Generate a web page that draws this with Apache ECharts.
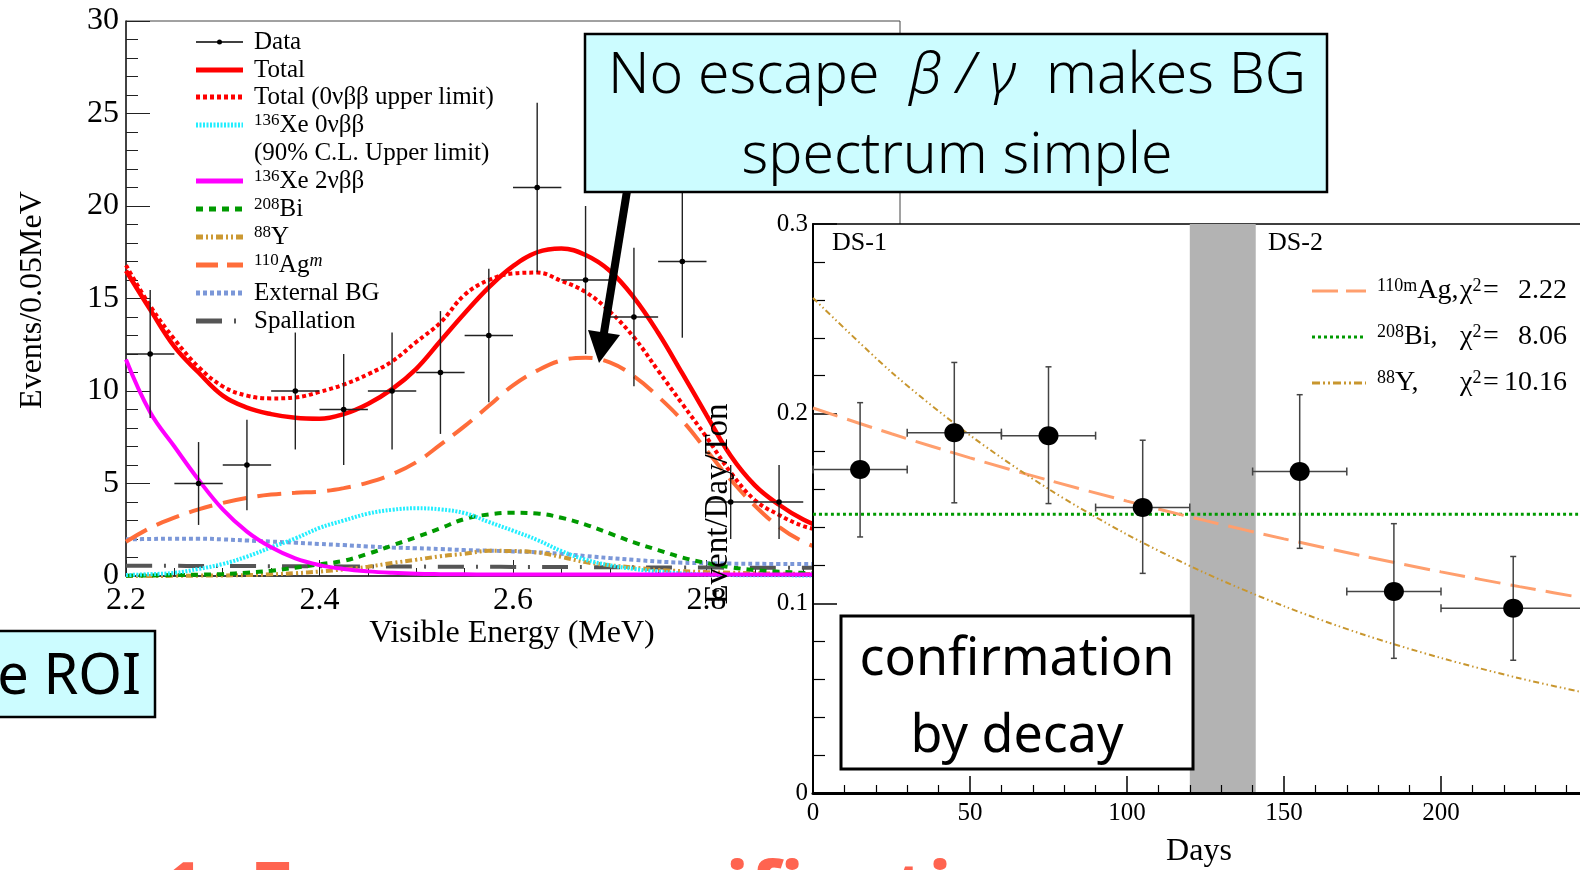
<!DOCTYPE html>
<html><head><meta charset="utf-8">
<script src="https://cdn.jsdelivr.net/npm/echarts@6/dist/echarts.min.js"></script>
<style>html,body{margin:0;padding:0;background:#fff}#c{width:1580px;height:870px}</style>
</head><body><div id="c"></div>
<script>
// ---------------- Left chart: energy spectrum ----------------
const energyGrid = [2.200,2.225,2.250,2.275,2.300,2.325,2.350,2.375,2.400,2.425,2.450,2.475,2.500,2.525,2.550,2.575,2.600,2.625,2.650,2.675,2.700,2.725,2.750,2.775,2.800,2.825,2.850,2.875,2.900,2.925];
const totalFit   = [16.5,14.4,12.4,11.0,9.75,9.1,8.75,8.55,8.5,8.75,9.3,10.1,11.2,12.7,14.2,15.6,16.75,17.5,17.7,17.35,16.5,15.05,13.15,10.95,8.7,6.5,4.9,3.85,3.05,2.5];
const totalUpper = [16.8,14.6,12.8,11.3,10.25,9.75,9.6,9.65,9.95,10.35,10.9,11.6,12.65,13.7,15.2,16.0,16.35,16.4,15.95,15.35,14.3,12.9,11.1,9.3,7.5,5.6,4.1,3.3,2.7,2.4];
const xe0v       = [0.05,0.1,0.17,0.38,0.65,1.05,1.55,2.03,2.6,3.0,3.37,3.58,3.66,3.6,3.4,2.92,2.45,1.95,1.35,0.88,0.58,0.38,0.24,0.14,0.08,0.05,0.04,0.04,0.03,0.03];
const xe2v       = [11.7,8.85,7.0,5.2,3.6,2.4,1.55,0.95,0.59,0.38,0.25,0.17,0.12,0.1,0.09,0.08,0.08,0.08,0.08,0.08,0.08,0.08,0.08,0.08,0.08,0.08,0.08,0.08,0.08,0.08];
const bi208      = [0.02,0.03,0.05,0.07,0.1,0.18,0.28,0.45,0.63,0.82,1.2,1.65,2.1,2.58,3.08,3.33,3.42,3.38,3.15,2.78,2.3,1.82,1.4,1.0,0.7,0.47,0.32,0.23,0.17,0.13];
const y88        = [0,0,0.01,0.02,0.03,0.05,0.09,0.15,0.24,0.36,0.5,0.7,0.88,1.07,1.2,1.36,1.35,1.27,1.03,0.75,0.58,0.46,0.33,0.26,0.21,0.18,0.15,0.13,0.11,0.1];
const ag110m     = [1.85,2.6,3.15,3.6,3.95,4.22,4.4,4.5,4.56,4.75,5.05,5.5,6.15,7.1,8.1,9.2,10.3,11.1,11.65,11.8,11.55,10.8,9.7,8.4,6.8,5.2,3.8,2.65,1.85,1.35];
const extBG      = [1.98,2.0,2.02,2.02,1.98,1.92,1.86,1.8,1.73,1.67,1.6,1.54,1.5,1.46,1.4,1.37,1.33,1.28,1.2,1.08,0.97,0.87,0.78,0.72,0.69,0.67,0.66,0.65,0.65,0.64];
const spallation = [0.55,0.55,0.55,0.54,0.54,0.54,0.53,0.53,0.53,0.52,0.52,0.51,0.51,0.5,0.5,0.5,0.49,0.49,0.48,0.48,0.47,0.47,0.46,0.46,0.46,0.45,0.45,0.45,0.44,0.44];

const dataEnergy = [2.225,2.275,2.325,2.375,2.425,2.475,2.525,2.575,2.625,2.675,2.725,2.775,2.825,2.875];
const dataCounts = [12,5,6,10,9,10,11,13,21,16,14,17,4,4];
const dataLow    = [8.54,2.76,3.55,6.84,6.0,6.84,7.68,9.39,16.42,12.0,10.26,12.88,2.0,2.0];
const dataHigh   = [15.46,7.24,8.45,13.16,12.0,13.16,14.32,16.61,25.58,20.0,17.74,21.12,6.0,6.0];
const dataBinHalfWidth = 0.025;

// ---------------- Right chart: time dependence ----------------
const dayCenter = [15,45,75,105,155,185,223];
const dayHalf   = [15,15,15,15,15,15,23];
const rateValue = [0.1705,0.190,0.1884,0.1505,0.1695,0.1063,0.0974];
const rateLow   = [0.135,0.153,0.1526,0.1158,0.129,0.071,0.070];
const rateHigh  = [0.2058,0.227,0.2247,0.186,0.21,0.142,0.1247];
const curveDays = [0,25,50,75,100,125,150,175,200,225,250];
const agDecay   = [0.203,0.1894,0.1767,0.1649,0.1539,0.1436,0.1340,0.1250,0.1166,0.1088,0.1015];
const yDecay    = [0.261,0.2219,0.1886,0.1603,0.1363,0.1159,0.0985,0.0837,0.0712,0.0605,0.0514];
const biFlat    = [0.147,0.147,0.147,0.147,0.147,0.147,0.147,0.147,0.147,0.147,0.147];
const gapBand   = [120,141];

const serif = '"Liberation Serif", "DejaVu Serif", serif';
const sans = '"Noto Sans", "Liberation Sans", sans-serif';
const pair = (xs, ys) => xs.map((x, i) => [x, ys[i]]);

const chart = echarts.init(document.getElementById('c'), null, {renderer: 'canvas'});

function lineSeries(name, ys, color, width, dash, z) {
  return {
    name, type: 'line', xAxisIndex: 0, yAxisIndex: 0, data: pair(energyGrid, ys),
    smooth: 0.4, showSymbol: false, symbol: 'none', z: z || 2,
    lineStyle: {color, width, type: dash || 'solid', cap: 'butt'}, animation: false
  };
}

const leftErr = {
  type: 'custom', xAxisIndex: 0, yAxisIndex: 0, z: 4, animation: false,
  data: dataEnergy.map((e, i) => [e, dataCounts[i], dataLow[i], dataHigh[i], dataBinHalfWidth]),
  renderItem: (p, api) => {
    const x = api.value(0), y = api.value(1), lo = api.value(2), hi = api.value(3), hw = api.value(4);
    const a = api.coord([x - hw, y]), b = api.coord([x + hw, y]);
    const t = api.coord([x, hi]), d = api.coord([x, lo]), c = api.coord([x, y]);
    const st = {stroke: '#222', lineWidth: 1.4};
    return {type: 'group', children: [
      {type: 'line', shape: {x1: a[0], y1: a[1], x2: b[0], y2: b[1]}, style: st},
      {type: 'line', shape: {x1: t[0], y1: t[1], x2: d[0], y2: d[1]}, style: st},
      {type: 'circle', shape: {cx: c[0], cy: c[1], r: 2.8}, style: {fill: '#000'}}
    ]};
  }
};

const rightBand = {
  type: 'custom', xAxisIndex: 1, yAxisIndex: 1, z: 11, animation: false,
  data: [[gapBand[0], gapBand[1]]],
  renderItem: (p, api) => {
    const a = api.coord([api.value(0), 0.3]), b = api.coord([api.value(1), 0]);
    return {type: 'rect', shape: {x: a[0], y: a[1], width: b[0] - a[0], height: b[1] - a[1]}, style: {fill: '#b3b3b3'}};
  }
};

const rightPts = {
  type: 'custom', xAxisIndex: 1, yAxisIndex: 1, z: 14, animation: false,
  data: dayCenter.map((d, i) => [d, rateValue[i], rateLow[i], rateHigh[i], dayHalf[i]]),
  renderItem: (p, api) => {
    const x = api.value(0), y = api.value(1), lo = api.value(2), hi = api.value(3), hw = api.value(4);
    const a = api.coord([x - hw, y]), b = api.coord([x + hw, y]);
    const t = api.coord([x, hi]), d = api.coord([x, lo]), c = api.coord([x, y]);
    const st = {stroke: '#444', lineWidth: 1.5};
    return {type: 'group', children: [
      {type: 'line', shape: {x1: a[0], y1: a[1], x2: b[0], y2: b[1]}, style: st},
      {type: 'line', shape: {x1: a[0], y1: a[1] - 4, x2: a[0], y2: a[1] + 4}, style: st},
      {type: 'line', shape: {x1: b[0], y1: b[1] - 4, x2: b[0], y2: b[1] + 4}, style: st},
      {type: 'line', shape: {x1: t[0], y1: t[1], x2: d[0], y2: d[1]}, style: st},
      {type: 'line', shape: {x1: t[0] - 3, y1: t[1], x2: t[0] + 3, y2: t[1]}, style: st},
      {type: 'line', shape: {x1: d[0] - 3, y1: d[1], x2: d[0] + 3, y2: d[1]}, style: st},
      {type: 'ellipse', shape: {cx: c[0], cy: c[1], rx: 10, ry: 9.5}, style: {fill: '#000'}}
    ]};
  }
};

function rightLine(name, ys, color, width, dash) {
  return {name, type: 'line', xAxisIndex: 1, yAxisIndex: 1, data: pair(curveDays, ys), smooth: 0.3,
    symbol: 'none', z: 12, animation: false, lineStyle: {color, width, type: dash, cap: 'butt'}};
}

// legend graphics (left chart)
const supL = {fontSize: 17, fontFamily: serif, fill: '#000', lineHeight: 8, verticalAlign: 'top'};
const mainL = {fontSize: 25, fontFamily: serif, fill: '#000', lineHeight: 26};
const leftLegend = [
  {y: 42, txt: '{m|Data}', color: '#000', w: 1.3, dash: null, dot: true},
  {y: 70, txt: '{m|Total}', color: '#ff0000', w: 5, dash: null},
  {y: 97, txt: '{m|Total (0νββ upper limit)}', color: '#ff0000', w: 5, dash: [4, 3]},
  {y: 125, txt: '{s|136}{m|Xe 0νββ}', color: '#22eeff', w: 5, dash: [2, 1.5]},
  {y: 153, txt: '{m|(90% C.L. Upper limit)}', color: null},
  {y: 181, txt: '{s|136}{m|Xe 2νββ}', color: '#ff00ff', w: 5, dash: null},
  {y: 209, txt: '{s|208}{m|Bi}', color: '#009a00', w: 5, dash: [7, 6]},
  {y: 237, txt: '{s|88}{m|Y}', color: '#cc9933', w: 5, dash: [7, 3, 2, 3, 2, 3]},
  {y: 265, txt: '{s|110}{m|Ag}{si|m}', color: '#ff6d3a', w: 5, dash: [22, 9]},
  {y: 293, txt: '{m|External BG}', color: '#7b97d8', w: 5, dash: [4, 3]},
  {y: 321, txt: '{m|Spallation}', color: '#555555', w: 5, dash: [26, 12, 2, 12]}
];
const graphics = [];
leftLegend.forEach(e => {
  if (e.color) {
    graphics.push({type: 'line', z: 5, shape: {x1: 196, y1: e.y, x2: 243, y2: e.y},
      style: {stroke: e.color, lineWidth: e.w, lineDash: e.dash || null}});
  }
  if (e.dot) graphics.push({type: 'circle', z: 5, shape: {cx: 219.5, cy: e.y, r: 2.5}, style: {fill: '#000'}});
  graphics.push({type: 'text', z: 5, x: 254, y: e.y, style: {text: e.txt, verticalAlign: 'middle', align: 'left',
    rich: {m: mainL, s: supL, si: Object.assign({}, supL, {fontStyle: 'italic', fontSize: 18})}}});
});

// right legend
const supR = {fontSize: 18, fontFamily: serif, fill: '#000', lineHeight: 8, verticalAlign: 'top'};
const mainR = {fontSize: 28, fontFamily: serif, fill: '#000', lineHeight: 28};
const rightLegend = [
  {y: 291, name: '{s|110m}{m|Ag,}', chi: '2.22', color: '#ff9f6e', w: 3, dash: [26, 8]},
  {y: 337, name: '{s|208}{m|Bi,}', chi: '8.06', color: '#009900', w: 3, dash: [3, 3]},
  {y: 383, name: '{s|88}{m|Y,}', chi: '10.16', color: '#c8962e', w: 3, dash: [8, 3, 2, 3, 2, 3]}
];
rightLegend.forEach(e => {
  graphics.push({type: 'line', z: 16, shape: {x1: 1312, y1: e.y, x2: 1366, y2: e.y}, style: {stroke: e.color, lineWidth: e.w, lineDash: e.dash}});
  graphics.push({type: 'text', z: 16, x: 1377, y: e.y, style: {text: e.name, verticalAlign: 'middle', rich: {m: mainR, s: supR}}});
  graphics.push({type: 'text', z: 16, x: 1460, y: e.y, style: {text: '{m|χ}{s|2}', verticalAlign: 'middle', rich: {m: mainR, s: supR}}});
  graphics.push({type: 'text', z: 16, x: 1483, y: e.y, style: {text: '=', verticalAlign: 'middle', font: '28px ' + serif, fill: '#000'}});
  graphics.push({type: 'text', z: 16, x: 1567, y: e.y, style: {text: e.chi, align: 'right', verticalAlign: 'middle', font: '28px ' + serif, fill: '#000'}});
});

// titles
graphics.push(
  {type: 'text', z: 6, x: 33, y: 300, rotation: Math.PI / 2, style: {text: 'Events/0.05MeV', font: '32px ' + serif, fill: '#000', align: 'center', verticalAlign: 'middle'}},
  {type: 'text', z: 6, x: 512, y: 634, style: {text: 'Visible Energy (MeV)', font: '32px ' + serif, fill: '#000', align: 'center', verticalAlign: 'middle'}},
  {type: 'text', z: 16, x: 718, y: 504, rotation: Math.PI / 2, style: {text: 'Event/Day/Ton', font: '33px ' + serif, fill: '#000', align: 'center', verticalAlign: 'middle'}},
  {type: 'text', z: 16, x: 1199, y: 852, style: {text: 'Days', font: '32px ' + serif, fill: '#000', align: 'center', verticalAlign: 'middle'}},
  {type: 'text', z: 16, x: 832, y: 243, style: {text: 'DS-1', font: '26px ' + serif, fill: '#000', verticalAlign: 'middle'}},
  {type: 'text', z: 16, x: 1268, y: 243, style: {text: 'DS-2', font: '26px ' + serif, fill: '#000', verticalAlign: 'middle'}}
);

// annotation boxes
graphics.push(
  {type: 'line', z: 20, shape: {x1: 627, y1: 191, x2: 602, y2: 345}, style: {stroke: '#000', lineWidth: 8}},
  {type: 'polygon', z: 20, shape: {points: [[599, 363], [588, 330], [620, 335]]}, style: {fill: '#000'}},
  {type: 'rect', z: 21, shape: {x: 585, y: 34, width: 742, height: 158}, style: {fill: '#ccfcff', stroke: '#000', lineWidth: 2.5}},
  {type: 'text', z: 22, x: 957, y: 77, style: {text: '{n|No escape  }{i|β / γ}{n|  makes BG}', align: 'center', verticalAlign: 'middle',
    rich: {n: {font: '300 57px ' + sans, fill: '#000'}, i: {font: 'italic 300 57px ' + sans, fill: '#000'}}}},
  {type: 'text', z: 22, x: 957, y: 157, style: {text: 'spectrum simple', font: '300 57px ' + sans, fill: '#000', align: 'center', verticalAlign: 'middle'}},
  {type: 'rect', z: 21, shape: {x: -5, y: 631, width: 160, height: 86}, style: {fill: '#ccfcff', stroke: '#000', lineWidth: 2.5}},
  {type: 'text', z: 22, x: 141, y: 678, style: {text: 'e ROI', font: '56px ' + sans, fill: '#000', align: 'right', verticalAlign: 'middle'}},
  {type: 'rect', z: 21, shape: {x: 841, y: 616, width: 352, height: 153}, style: {fill: '#fff', stroke: '#000', lineWidth: 3}},
  {type: 'text', z: 22, x: 1017, y: 660, style: {text: 'confirmation', font: '52px ' + sans, fill: '#000', align: 'center', verticalAlign: 'middle'}},
  {type: 'text', z: 22, x: 1017, y: 737, style: {text: 'by decay', font: '52px ' + sans, fill: '#000', align: 'center', verticalAlign: 'middle'}},
  {type: 'text', z: 22, x: 160, y: 897, style: {text: '1. Energy specification', font: 'bold 80px ' + sans, fill: '#ff6450', align: 'left', verticalAlign: 'middle'}}
);

const axisLabelL = {fontFamily: serif, fontSize: 32, color: '#000'};
const axisLabelR = {fontFamily: serif, fontSize: 25, color: '#000'};

chart.setOption({
  animation: false,
  backgroundColor: '#fff',
  grid: [
    {left: 126, top: 21, width: 774, height: 555, show: true, borderColor: '#444', borderWidth: 1, backgroundColor: 'transparent', z: 0, outerBoundsMode: 'none', containLabel: false},
    {left: 813, top: 224, width: 785, height: 569, show: true, borderColor: '#000', borderWidth: 1.5, backgroundColor: '#fff', z: 10, outerBoundsMode: 'none', containLabel: false}
  ],
  xAxis: [
    {gridIndex: 0, type: 'value', min: 2.2, max: 3.0, interval: 0.2, z: 1,
      axisLine: {show: true, lineStyle: {color: '#222', width: 1.5}},
      axisTick: {inside: true, length: 16, lineStyle: {color: '#222'}},
      minorTick: {show: true, splitNumber: 4, length: 8, lineStyle: {color: '#222'}},
      splitLine: {show: false},
      axisLabel: Object.assign({margin: 9, formatter: v => v.toFixed(1), showMaxLabel: false}, axisLabelL)},
    {gridIndex: 1, type: 'value', min: 0, max: 250, interval: 50, z: 11,
      axisLine: {show: true, lineStyle: {color: '#000', width: 3}},
      axisTick: {inside: true, length: 17, lineStyle: {color: '#000', width: 1.5}},
      minorTick: {show: true, splitNumber: 5, length: 8, lineStyle: {color: '#000', width: 1.2}},
      splitLine: {show: false},
      axisLabel: Object.assign({margin: 8, formatter: v => String(v)}, axisLabelR)}
  ],
  yAxis: [
    {gridIndex: 0, type: 'value', min: 0, max: 30, interval: 5, z: 1,
      axisLine: {show: true, lineStyle: {color: '#222', width: 1.5}},
      axisTick: {inside: true, length: 24, lineStyle: {color: '#222'}},
      minorTick: {show: true, splitNumber: 5, length: 12, lineStyle: {color: '#222'}},
      splitLine: {show: false},
      axisLabel: Object.assign({margin: 7}, axisLabelL)},
    {gridIndex: 1, type: 'value', min: 0, max: 0.3, interval: 0.1, z: 11,
      axisLine: {show: true, lineStyle: {color: '#000', width: 2}},
      axisTick: {inside: true, length: 24, lineStyle: {color: '#000', width: 1.5}},
      minorTick: {show: true, splitNumber: 5, length: 12, lineStyle: {color: '#000', width: 1.2}},
      splitLine: {show: false},
      axisLabel: Object.assign({margin: 5, formatter: v => v === 0 ? '0' : v.toFixed(1)}, axisLabelR)}
  ],
  graphic: graphics,
  series: [
    lineSeries('Spallation', spallation, '#555555', 4, [26, 12, 2, 12]),
    lineSeries('External BG', extBG, '#7b97d8', 4, [4, 3]),
    lineSeries('88Y', y88, '#cc9933', 4, [7, 3, 2, 3, 2, 3]),
    lineSeries('208Bi', bi208, '#009a00', 4, [7, 6]),
    lineSeries('136Xe 0vbb', xe0v, '#22eeff', 4, [2, 1.5]),
    lineSeries('136Xe 2vbb', xe2v, '#ff00ff', 4, null),
    lineSeries('110mAg', ag110m, '#ff6d3a', 4, [24, 11]),
    lineSeries('Total (0vbb upper limit)', totalUpper, '#ff0000', 4, [4, 3], 3),
    lineSeries('Total', totalFit, '#ff0000', 4.5, null, 3),
    leftErr,
    rightBand,
    rightLine('208Bi fit', biFlat, '#009900', 3, [3, 3]),
    rightLine('110mAg fit', agDecay, '#ff9f6e', 3, [26, 10]),
    rightLine('88Y fit', yDecay, '#c8962e', 2, [6, 3, 1.5, 3, 1.5, 3]),
    rightPts
  ]
});
</script></body></html>
